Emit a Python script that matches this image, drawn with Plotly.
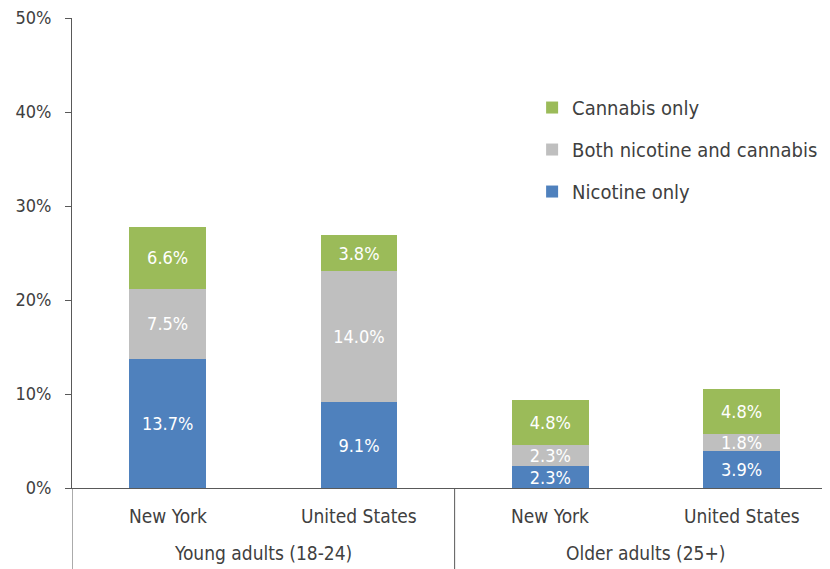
import plotly.graph_objects as go

groups = ["Young adults (18-24)", "Young adults (18-24)", "Older adults (25+)", "Older adults (25+)"]
places = ["New York", "United States", "New York", "United States"]
nicotine_only = [13.7, 9.1, 2.3, 3.9]
both = [7.5, 14.0, 2.3, 1.8]
cannabis_only = [6.6, 3.8, 4.8, 4.8]
y_ticks = [0, 10, 20, 30, 40, 50]
y_tick_labels = ["0%", "10%", "20%", "30%", "40%", "50%"]

FONT = "DejaVu Sans Condensed, Liberation Sans Narrow, Roboto, sans-serif"
TXT = "#404040"
LINE = "#595959"
x = [groups, places]

series = [
    ("Nicotine only", nicotine_only, "#4F81BD", 3),
    ("Both nicotine and cannabis", both, "#BFBFBF", 2),
    ("Cannabis only", cannabis_only, "#9BBB59", 1),
]

fig = go.Figure()
for name, vals, col, rank in series:
    fig.add_trace(go.Bar(
        x=x, y=vals, name=name, legendgroup=name, legendrank=rank,
        marker=dict(color=col, line=dict(width=0)),
        text=[f"{v:.1f}%" for v in vals], textposition="inside",
        insidetextanchor="middle", constraintext="none",
        textfont=dict(color="white", size=18, family=FONT),
    ))

# x labels (place and group) beneath the axis
annotations = []
for i, p in enumerate(places):
    annotations.append(dict(x=i, y=0, xref="x", yref="paper", text=p, showarrow=False,
                             yanchor="middle", yshift=-28, font=dict(size=19, color=TXT)))
uniq = []
for g in groups:
    if g not in uniq:
        uniq.append(g)
for g in uniq:
    idx = [i for i, gg in enumerate(groups) if gg == g]
    annotations.append(dict(x=sum(idx) / len(idx), y=0, xref="x", yref="paper", text=g,
                             showarrow=False, yanchor="middle", yshift=-65,
                             font=dict(size=19, color=TXT)))

# group dividers
shapes = []
bounds = [-0.5]
for i in range(1, len(groups)):
    if groups[i] != groups[i - 1]:
        bounds.append(i - 0.5)
for b in bounds:
    shapes.append(dict(type="line", xref="x", yref="paper", x0=b, x1=b, y0=0, y1=-0.175,
                       line=dict(color=LINE, width=1)))

fig.update_layout(
    barmode="stack", bargap=0.6,
    width=822, height=561,
    margin=dict(l=64, r=0, t=10, b=81),
    plot_bgcolor="white", paper_bgcolor="white",
    font=dict(family=FONT, color=TXT, size=18),
    legend=dict(x=0.607, y=0.851, xanchor="left", yanchor="top",
                traceorder="grouped", tracegroupgap=13,
                font=dict(size=20, color=TXT), bgcolor="rgba(0,0,0,0)"),
    showlegend=True,
    annotations=annotations,
    shapes=shapes,
)
fig.update_yaxes(range=[0, 50], tickvals=y_ticks, ticktext=y_tick_labels,
                 showgrid=False, showline=True, linecolor=LINE, linewidth=1,
                 ticks="outside", ticklen=6, tickcolor=LINE, ticklabelstandoff=10,
                 ticklabeloverflow="allow",
                 tickfont=dict(size=18, color=TXT), zeroline=False, automargin=False)
fig.update_xaxes(type="multicategory", range=[-0.5, 3.462], showline=True,
                 linecolor=LINE, linewidth=1, showticklabels=False, showdividers=False,
                 showgrid=False, automargin=False)
fig.write_html("out.html")
